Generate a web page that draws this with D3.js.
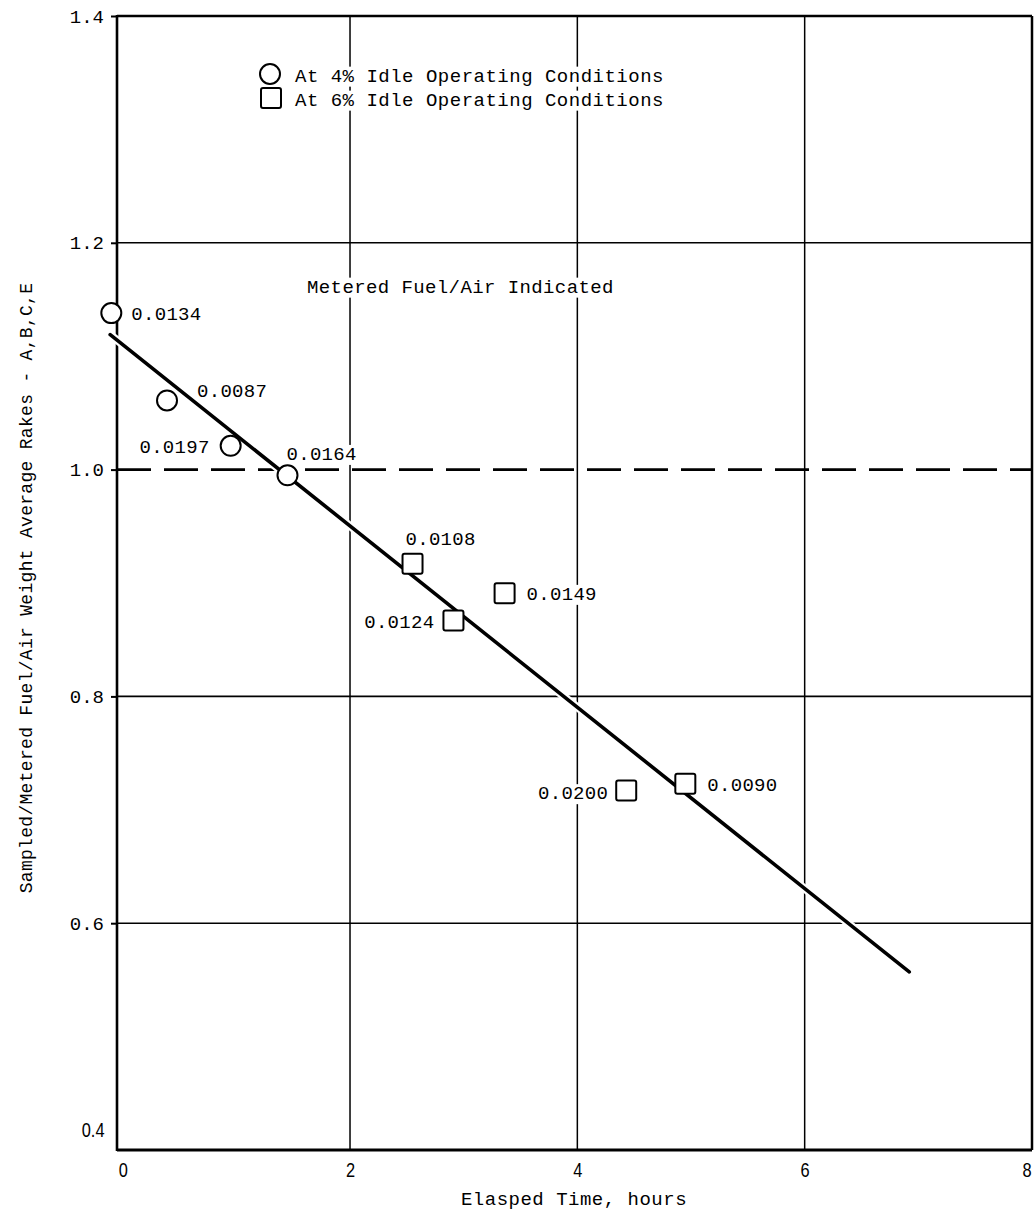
<!DOCTYPE html>
<html><head><meta charset="utf-8">
<script src="https://cdn.jsdelivr.net/npm/d3@7"></script>
<style>body{margin:0;background:#fff} svg{display:block}</style>
</head><body><svg id="c" width="1035" height="1216"></svg>
<script>
// ---------- data ----------
const xTicks = [0, 2, 4, 6, 8];
const yTicks = [0.4, 0.6, 0.8, 1.0, 1.2, 1.4];
const circleX = [-0.10, 0.39, 0.95, 1.45];
const circleY = [1.138, 1.061, 1.021, 0.995];
const circleLabels = ["0.0134", "0.0087", "0.0197", "0.0164"];
const squareX = [2.55, 3.36, 2.91, 4.43, 4.95];
const squareY = [0.917, 0.891, 0.867, 0.717, 0.723];
const squareLabels = ["0.0108", "0.0149", "0.0124", "0.0200", "0.0090"];
const fitX = [-0.11, 6.92];
const fitY = [1.119, 0.557];
const referenceY = 1.0;
const legendLabels = ["At 4% Idle Operating Conditions", "At 6% Idle Operating Conditions"];
const refLabel = "Metered Fuel/Air Indicated";
const xTitle = "Elasped Time, hours";
const yTitle = "Sampled/Metered Fuel/Air Weight Average Rakes - A,B,C,E";

// ---------- label placement (style) ----------
const circleLabelPos = [{dx:20,dy:0,a:"start"},{dx:30,dy:-10,a:"start"},{dx:-21,dy:1,a:"end"},{dx:-1,dy:-22,a:"start"}];
const squareLabelPos = [{dx:-7,dy:-25,a:"start"},{dx:22,dy:0,a:"start"},{dx:-19,dy:1,a:"end"},{dx:-18,dy:2,a:"end"},{dx:22,dy:1,a:"start"}];

const MONO = "'Liberation Mono','DejaVu Sans Mono',monospace";
const SANS = "'Liberation Sans','DejaVu Sans',sans-serif";

const svg = d3.select("#c");
const x = d3.scaleLinear().domain([-0.05, 8]).range([117, 1032]);
const y = d3.scaleLinear().domain([0.4, 1.4]).range([1150, 16]);

const gGrid = svg.append("g");
const gTextBg = svg.append("g");
const gText = svg.append("g");
const gLine = svg.append("g");
const gMark = svg.append("g");

// gridlines
const hGrid = yTicks.filter(v => v !== referenceY);
gGrid.selectAll("line.h").data(hGrid).join("line")
  .attr("x1", x.range()[0]).attr("x2", x.range()[1])
  .attr("y1", d => y(d)).attr("y2", d => y(d))
  .attr("stroke", "#000")
  .attr("stroke-width", d => (d === 0.4 ? 3 : d === 1.4 ? 2.5 : 1.6));
gGrid.selectAll("line.v").data(xTicks.filter(v => v > 0)).join("line")
  .attr("y1", y(1.4)).attr("y2", y(0.4))
  .attr("x1", d => x(d)).attr("x2", d => x(d))
  .attr("stroke", "#000")
  .attr("stroke-width", d => (d === 8 ? 2.5 : 1.5));
// left border
gGrid.append("line").attr("x1", x.range()[0]).attr("x2", x.range()[0])
  .attr("y1", y(1.4) - 1).attr("y2", y(0.4) + 1).attr("stroke", "#000").attr("stroke-width", 2.6);
// reference dashed line
gGrid.append("line")
  .attr("x1", x.range()[0]).attr("x2", x.range()[1])
  .attr("y1", y(referenceY)).attr("y2", y(referenceY))
  .attr("stroke", "#000").attr("stroke-width", 2.6)
  .attr("stroke-dasharray", "34 13");

// y axis
const yAxis = svg.append("g").attr("transform", `translate(${x.range()[0]},0)`)
  .call(d3.axisLeft(y).tickValues(yTicks).tickSize(6).tickPadding(7).tickFormat(d3.format(".1f")));
yAxis.select(".domain").remove();
yAxis.selectAll("line").attr("stroke-width", 2);
yAxis.selectAll("text").attr("font-family", MONO).attr("font-size", 19).attr("fill", "#000");
yAxis.selectAll(".tick").filter(d => d === 0.4).select("text")
  .attr("font-family", SANS).attr("font-size", 21).attr("dy", "0.35em")
  .attr("y", -21).attr("transform", "scale(0.78,1)").attr("x", -16);
yAxis.selectAll(".tick").filter(d => d === 0.4).select("line").remove();

// x axis
const xAxis = svg.append("g").attr("transform", `translate(0,${y(0.4)})`)
  .call(d3.axisBottom(x).tickValues(xTicks).tickSize(0).tickFormat(d3.format("d")));
xAxis.select(".domain").remove();
xAxis.selectAll("text").attr("font-family", SANS).attr("font-size", 21).attr("fill", "#000")
  .attr("y", 20).attr("dy", "0.35em").attr("transform", "scale(0.78,1)");
xAxis.selectAll(".tick").filter(d => d === 8).select("text").attr("x", -7);

// text helper with white background
function label(px, py, str, anchor, opts = {}) {
  const t = gText.append("text")
    .attr("x", px).attr("y", py).attr("dy", "0.35em")
    .attr("text-anchor", anchor)
    .attr("font-family", opts.family || MONO)
    .attr("font-size", opts.size || 19)
    .attr("letter-spacing", opts.ls != null ? opts.ls : 0.3)
    .attr("fill", "#000").text(str);
  if (opts.transform) t.attr("transform", opts.transform);
  if (opts.bg !== false) {
    const b = t.node().getBBox();
    gTextBg.append("rect").attr("x", b.x - 2).attr("y", b.y + 1)
      .attr("width", b.width + 4).attr("height", b.height - 2).attr("fill", "#fff");
  }
  return t;
}

// legend
gMark.append("circle").attr("cx", 270).attr("cy", 74).attr("r", 10)
  .attr("fill", "#fff").attr("stroke", "#000").attr("stroke-width", 2);
gMark.append("rect").attr("x", 261).attr("y", 88).attr("width", 20).attr("height", 20).attr("rx", 2)
  .attr("fill", "#fff").attr("stroke", "#000").attr("stroke-width", 2);
label(295, 75, legendLabels[0], "start", {ls: 0.5});
label(295, 99, legendLabels[1], "start", {ls: 0.5});

// reference label
label(307, 286, refLabel, "start", {ls: 0.4});

// fit line with halo
const fitPts = fitX.map((v, i) => [x(v), y(fitY[i])]);
gLine.append("path").attr("d", d3.line()(fitPts))
  .attr("stroke", "#fff").attr("stroke-width", 8).attr("fill", "none");
gLine.append("path").attr("d", d3.line()(fitPts))
  .attr("stroke", "#000").attr("stroke-width", 3.6).attr("fill", "none").attr("stroke-linecap", "round");

// circles
circleX.forEach((v, i) => {
  const cx = x(v), cy = y(circleY[i]);
  gMark.append("circle").attr("cx", cx).attr("cy", cy).attr("r", 10)
    .attr("fill", "#fff").attr("stroke", "#000").attr("stroke-width", 2);
  const p = circleLabelPos[i];
  label(cx + p.dx, cy + p.dy, circleLabels[i], p.a);
});
// squares
squareX.forEach((v, i) => {
  const cx = x(v), cy = y(squareY[i]);
  gMark.append("rect").attr("x", cx - 10).attr("y", cy - 10).attr("width", 20).attr("height", 20).attr("rx", 2)
    .attr("fill", "#fff").attr("stroke", "#000").attr("stroke-width", 2);
  const p = squareLabelPos[i];
  label(cx + p.dx, cy + p.dy, squareLabels[i], p.a);
});

// axis titles
label(574, 1198, xTitle, "middle", {ls: 0.5, bg: false});
gText.append("text")
  .attr("transform", `translate(26,${(y(0.4) + y(1.4)) / 2 + 5}) rotate(-90)`)
  .attr("text-anchor", "middle").attr("dy", "0.35em")
  .attr("font-family", MONO).attr("font-size", 18).attr("letter-spacing", 0.3)
  .attr("fill", "#000").text(yTitle);
</script></body></html>
